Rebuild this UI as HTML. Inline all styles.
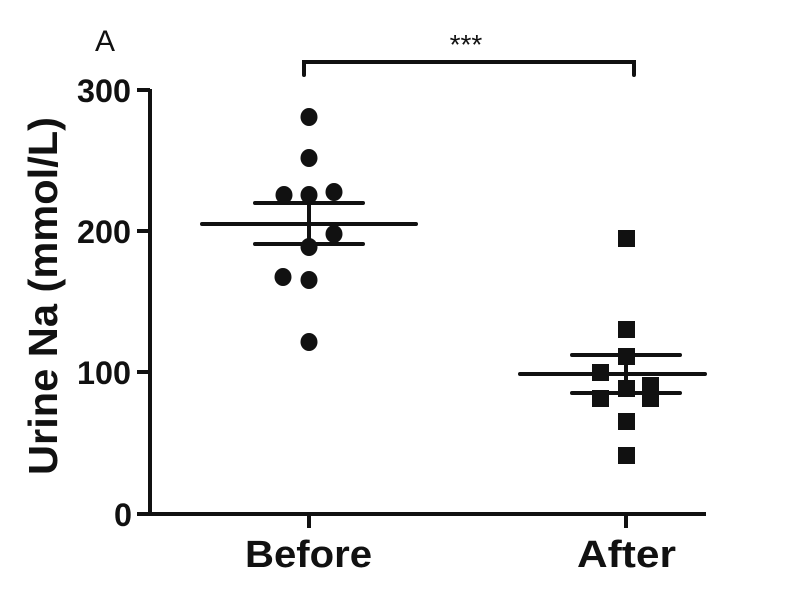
<!DOCTYPE html><html><head><style>body{margin:0;background:#fff}</style></head><body>
<svg width="797" height="584" viewBox="0 0 797 584" xmlns="http://www.w3.org/2000/svg" font-family="Liberation Sans, Arial, sans-serif">
<rect width="797" height="584" fill="#fff"/>
<g stroke="#111" stroke-width="4" fill="none" stroke-linecap="round">
<path d="M150 89 V514 H706" stroke-linecap="butt"/>
<path d="M137 90H150M137 231H150M137 372H150M137 514H150" stroke-linecap="butt"/>
<path d="M309 514V528M626 514V528" stroke-linecap="butt"/>
<path d="M304 75V62H634V75"/>
<path d="M202 224H416M255 203H363M255 244H363M309 203V244"/>
<path d="M520 374H705M572 355H680M572 393H680M626 355V393"/>
</g>
<g fill="#111">
<ellipse cx="309" cy="117" rx="8.5" ry="9"/><ellipse cx="309" cy="158" rx="8.5" ry="9"/>
<ellipse cx="284" cy="195" rx="8.5" ry="9"/><ellipse cx="309" cy="195" rx="8.5" ry="9"/>
<ellipse cx="334" cy="192" rx="8.5" ry="9"/><ellipse cx="334" cy="234" rx="8.5" ry="9"/>
<ellipse cx="309" cy="247" rx="8.5" ry="9"/><ellipse cx="283" cy="277" rx="8.5" ry="9"/>
<ellipse cx="309" cy="280" rx="8.5" ry="9"/><ellipse cx="309" cy="342" rx="8.5" ry="9"/>
<rect x="618" y="230" width="17" height="17"/><rect x="618" y="321" width="17" height="17"/>
<rect x="618" y="348" width="17" height="17"/><rect x="592" y="364" width="17" height="17"/>
<rect x="618" y="380" width="17" height="17"/><rect x="592" y="390" width="17" height="17"/>
<rect x="642" y="377" width="17" height="30"/><rect x="618" y="413" width="17" height="17"/>
<rect x="618" y="447" width="17" height="17"/>
</g>
<g fill="#111" font-weight="bold" font-size="32">
<text x="77" y="102" textLength="54" lengthAdjust="spacingAndGlyphs">300</text>
<text x="77" y="243" textLength="54" lengthAdjust="spacingAndGlyphs">200</text>
<text x="77" y="384" textLength="54" lengthAdjust="spacingAndGlyphs">100</text>
<text x="114" y="526" textLength="18" lengthAdjust="spacingAndGlyphs">0</text>
</g>
<g fill="#111" font-weight="bold" font-size="38">
<text x="245" y="567" textLength="127" lengthAdjust="spacingAndGlyphs">Before</text>
<text x="577" y="567" textLength="99" lengthAdjust="spacingAndGlyphs">After</text>
<text transform="translate(57,475) rotate(-90)" font-size="41" textLength="358" lengthAdjust="spacingAndGlyphs">Urine Na (mmol/L)</text>
</g>
<text x="95" y="51" font-size="30" fill="#111">A</text>
<text x="466" y="54" font-size="28" fill="#111" text-anchor="middle">***</text>
</svg></body></html>
